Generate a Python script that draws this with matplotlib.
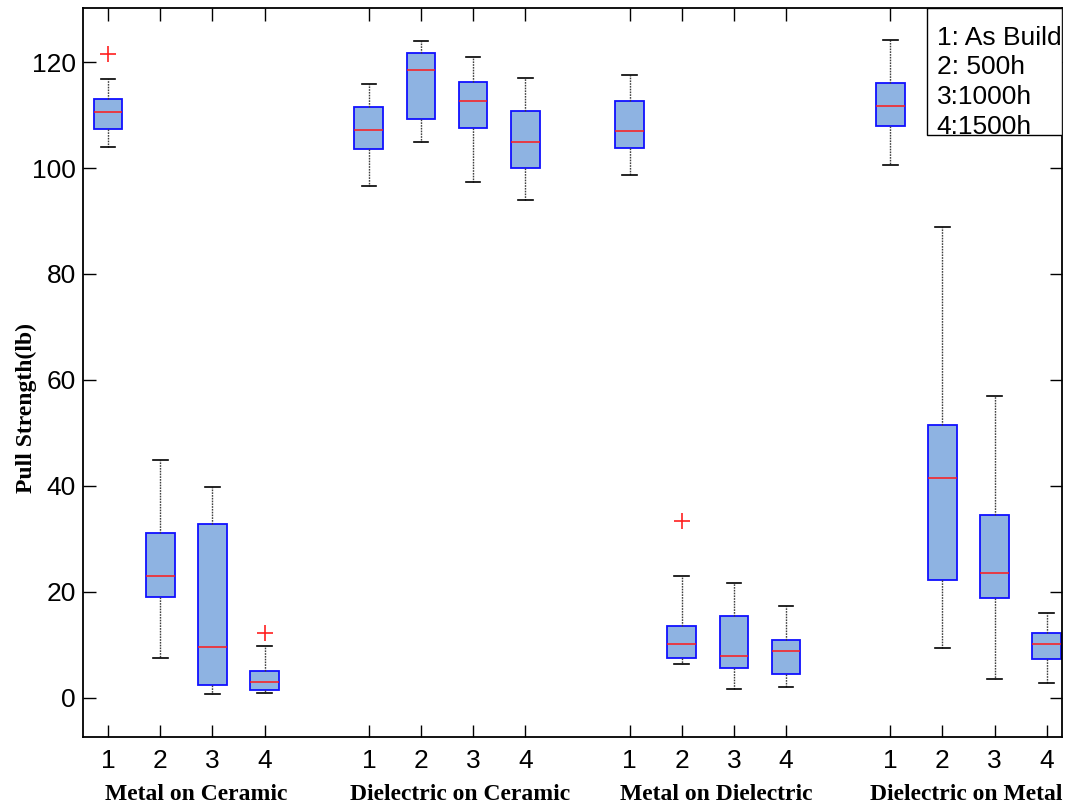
import matplotlib.pyplot as plt
from matplotlib.patches import Rectangle

GROUPS = ['Metal on Ceramic', 'Dielectric on Ceramic', 'Metal on Dielectric', 'Dielectric on Metal']
TICK_LABELS = ['1', '2', '3', '4'] * 4
LEGEND_TEXT = '1: As Build\n2: 500h\n3:1000h\n4:1500h'

# box statistics, in pull strength (lb)
WHIS_LO = [104.0, 7.5, 0.8, 0.9,   96.6, 104.9, 97.4, 94.0,   98.7, 6.4, 1.7, 2.1,   100.6, 9.4, 3.6, 2.8]
Q1      = [107.4, 19.1, 2.5, 1.5,  103.6, 109.2, 107.5, 100.0, 103.8, 7.5, 5.7, 4.5,  107.9, 22.3, 18.9, 7.4]
MEDIAN  = [110.5, 23.0, 9.6, 3.0,  107.2, 118.5, 112.6, 104.9, 107.0, 10.2, 7.9, 8.9, 111.7, 41.5, 23.6, 10.2]
Q3      = [113.1, 31.1, 32.8, 5.1, 111.5, 121.7, 116.2, 110.8, 112.6, 13.6, 15.5, 10.9, 116.0, 51.5, 34.5, 12.3]
WHIS_HI = [116.9, 44.9, 39.8, 9.8, 115.8, 124.0, 120.9, 117.0, 117.5, 23.0, 21.7, 17.4, 124.2, 88.9, 57.0, 16.0]
OUTLIERS = [[121.6], [], [], [12.3], [], [], [], [], [], [33.4], [], [], [], [], [], []]

positions = [g * 5 + i + 1 for g in range(4) for i in range(4)]
group_label_x = [2.69, 7.74, 12.67, 17.46]

stats = []
for k in range(len(MEDIAN)):
    stats.append(dict(med=MEDIAN[k], q1=Q1[k], q3=Q3[k], whislo=WHIS_LO[k],
                      whishi=WHIS_HI[k], fliers=OUTLIERS[k]))

fig = plt.figure(figsize=(10.77, 8.05), dpi=100)
ax = fig.add_axes([0.0771, 0.0845, 0.9089, 0.9055])

ax.bxp(stats, positions=positions, widths=0.55, patch_artist=True, showfliers=True,
       boxprops=dict(facecolor='#8EB3E2', edgecolor='#1010FF', linewidth=1.3),
       medianprops=dict(color='#FF1A1A', linewidth=1.1),
       whiskerprops=dict(color='0.25', linestyle=(0, (1.2, 0.8)), linewidth=1.0),
       capprops=dict(color='black', linewidth=1.2),
       flierprops=dict(marker='+', markeredgecolor='#FF2020', markersize=11, markeredgewidth=1.2))
# shorter caps, like the reference
for line in ax.lines:
    if line.get_xdata().size == 2 and line.get_color() == 'black':
        c = line.get_xdata().mean()
        line.set_xdata([c - 0.14, c + 0.14])

ax.set_xlim(0.52, 19.29)
ax.set_ylim(-7.4, 130.2)
ax.set_xticks(positions)
ax.set_xticklabels(TICK_LABELS)
ax.set_yticks([0, 20, 40, 60, 80, 100, 120])
ax.tick_params(direction='in', length=9, width=1, top=True, right=True, labelsize=19)
ax.tick_params(axis='x', pad=9)
ax.tick_params(axis='y', pad=5)
for lab in ax.get_xticklabels() + ax.get_yticklabels():
    lab.set_fontfamily('Liberation Sans')
for sp in ax.spines.values():
    sp.set_linewidth(1.3)

for x, name in zip(group_label_x, GROUPS):
    ax.text(x, -0.079, name, transform=ax.get_xaxis_transform(), ha='center', va='center',
            fontsize=17, fontweight='bold', fontfamily='Liberation Serif')

ax.set_ylabel('Pull Strength(lb)', fontsize=17, fontweight='bold',
              fontfamily='Liberation Serif')
ax.yaxis.set_label_coords(-0.047, 0.451)

ax.add_patch(Rectangle((0.862, 0.826), 0.138, 0.174, transform=ax.transAxes,
                       facecolor='white', edgecolor='black', linewidth=1.0, zorder=5))
ax.text(0.872, 0.976, LEGEND_TEXT, transform=ax.transAxes, ha='left', va='top',
        fontsize=19, fontfamily='Liberation Sans', linespacing=1.3, zorder=6)

fig.savefig('out.png', dpi=100)
